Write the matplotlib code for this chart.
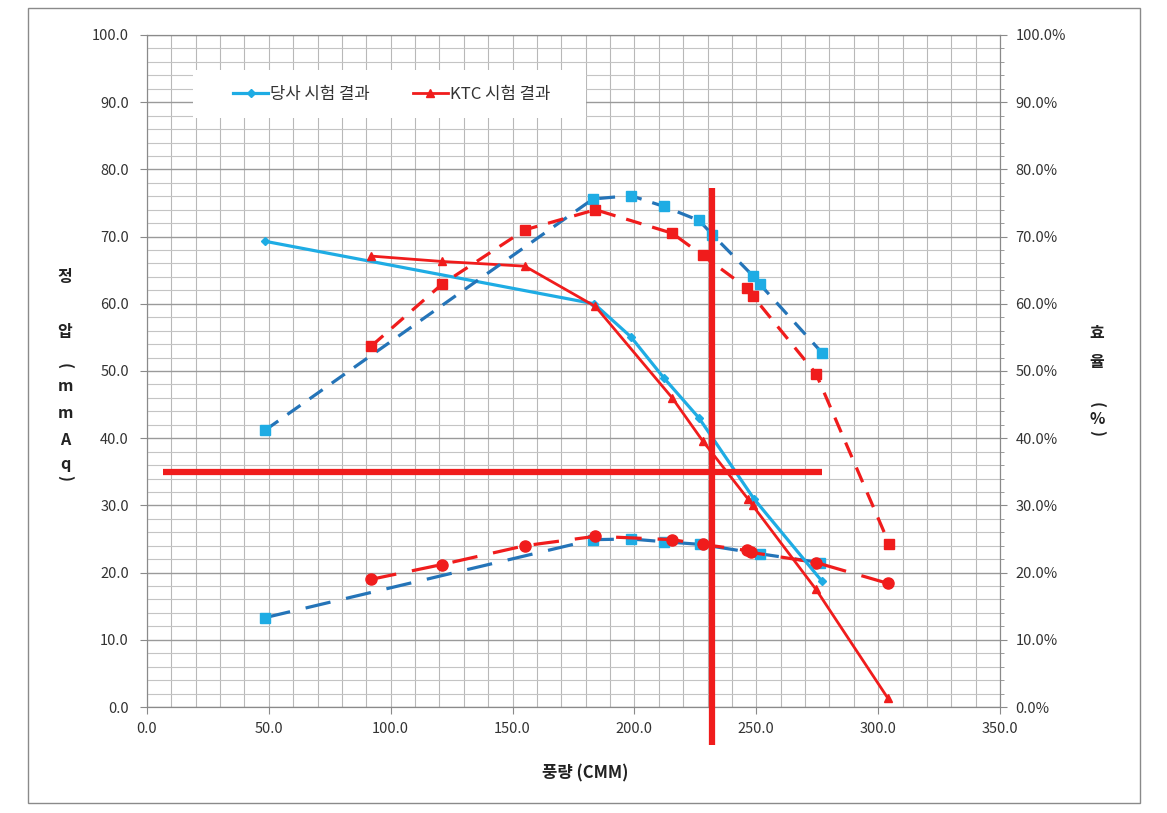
import matplotlib

matplotlib.use("Agg")

import matplotlib.pyplot as plt
from matplotlib.patches import Rectangle
from matplotlib.ticker import FuncFormatter, MultipleLocator

plt.rcParams["font.family"] = ["Noto Sans CJK KR", "DejaVu Sans"]

# 정압 (mmAq) vs 풍량 (CMM)
OUR_Q = [48.5, 183.5, 198.5, 212.0, 226.5, 249.0, 277.0]
OUR_P = [69.3, 60.0, 55.1, 49.0, 43.0, 31.0, 18.7]
KTC_Q = [92.0, 121.0, 155.0, 184.0, 215.5, 228.0, 246.5, 248.5, 274.5, 304.0]
KTC_P = [67.1, 66.3, 65.6, 59.6, 46.0, 39.6, 31.0, 30.0, 17.5, 1.3]

# 효율 (%) — 상단 점선
OUR_EFF_Q = [48.5, 183.0, 198.5, 212.0, 226.5, 232.0, 248.5, 251.5, 277.0]
OUR_EFF = [41.2, 75.6, 76.1, 74.5, 72.4, 70.3, 64.2, 62.9, 52.7]
KTC_EFF_Q = [92.0, 121.0, 155.0, 184.0, 215.5, 228.0, 246.0, 248.5, 274.5, 304.5]
KTC_EFF = [53.7, 62.9, 71.0, 74.0, 70.5, 67.2, 62.4, 61.2, 49.6, 24.3]

# 하단 점선 계열
OUR_LOW_Q = [48.5, 183.0, 198.5, 212.0, 227.0, 251.5, 276.0]
OUR_LOW = [13.3, 24.9, 25.0, 24.6, 24.2, 22.8, 21.5]
KTC_LOW_Q = [92.0, 121.0, 155.0, 184.0, 215.5, 228.0, 246.0, 248.0, 274.5, 304.0]
KTC_LOW = [19.0, 21.2, 24.0, 25.4, 24.9, 24.2, 23.3, 23.0, 21.5, 18.4]

# 표시선 (운전점)
MARK_Q = 232.0
MARK_P = 35.0

CYAN = "#1EACE4"
DARK_BLUE = "#2474B8"
RED = "#F01C1C"

fig = plt.figure(figsize=(11.67, 8.13), dpi=100)
ax = fig.add_axes([147 / 1167, 1 - 707 / 813, 853 / 1167, 672 / 813])
ax2 = ax.twinx()

ax.set_xlim(0, 350)
ax.set_ylim(0, 100)
ax2.set_ylim(0, 100)

ax.xaxis.set_major_locator(MultipleLocator(50))
ax.xaxis.set_minor_locator(MultipleLocator(10))
ax.yaxis.set_major_locator(MultipleLocator(10))
ax.yaxis.set_minor_locator(MultipleLocator(2))
ax2.yaxis.set_major_locator(MultipleLocator(10))
ax2.yaxis.set_minor_locator(MultipleLocator(2))

ax.xaxis.set_major_formatter(FuncFormatter(lambda v, _: f"{v:.1f}"))
ax.yaxis.set_major_formatter(FuncFormatter(lambda v, _: f"{v:.1f}"))
ax2.yaxis.set_major_formatter(FuncFormatter(lambda v, _: f"{v:.1f}%"))

ax.grid(which="major", axis="y", color="#9a9a9a", linewidth=1.0)
ax.grid(which="minor", axis="y", color="#c4c4c4", linewidth=0.8)
ax.grid(which="both", axis="x", color="#b8b8b8", linewidth=0.8)
ax.set_axisbelow(True)

for a in (ax, ax2):
    for s in a.spines.values():
        s.set_color("#8a8a8a")
    a.tick_params(which="major", length=5, color="#8a8a8a", labelsize=10.5,
                  labelcolor="#333333")
    a.tick_params(which="minor", length=3, color="#8a8a8a")
ax.tick_params(axis="x", pad=6)
ax.tick_params(axis="y", pad=8)
ax.tick_params(axis="x", which="minor", length=0)
ax.tick_params(axis="y", which="minor", length=0)
ax2.tick_params(axis="y", pad=6)

# 정압 곡선
h_our, = ax.plot(OUR_Q, OUR_P, color=CYAN, lw=2.3, marker="D", ms=4,
                 label="당사 시험 결과", zorder=4)
h_ktc, = ax.plot(KTC_Q, KTC_P, color=RED, lw=2.0, marker="^", ms=6,
                 label="KTC 시험 결과", zorder=4)

# 효율 곡선
dash = (0, (5, 3.5))
ax2.plot(OUR_EFF_Q, OUR_EFF, color=DARK_BLUE, lw=2.3, ls=dash, marker="s", ms=7,
         mfc=CYAN, mec=CYAN, zorder=3)
ax2.plot(KTC_EFF_Q, KTC_EFF, color=RED, lw=2.3, ls=dash, marker="s", ms=7,
         mfc=RED, mec=RED, zorder=3)

# 하단 곡선
ax.plot(OUR_LOW_Q, OUR_LOW, color=DARK_BLUE, lw=2.3, ls=(0, (8, 5)), marker="s",
        ms=7, mfc=CYAN, mec=CYAN, zorder=3)
ax.plot(KTC_LOW_Q, KTC_LOW, color=RED, lw=2.3, ls=(0, (8, 5)), marker="o", ms=8,
        mfc=RED, mec=RED, zorder=3)

# 운전점 표시선
ax2.plot([6.5, 277], [MARK_P, MARK_P], color=RED, lw=4.5, solid_capstyle="butt",
         zorder=6, clip_on=False)
ax2.plot([MARK_Q, MARK_Q], [-5.6, 77.3], color=RED, lw=4.5, solid_capstyle="butt",
         zorder=6, clip_on=False)

# 범례 (흰 바탕 상자)
ax2.add_patch(Rectangle((0.054, 0.877), 0.461, 0.071, transform=ax2.transAxes,
                        facecolor="white", edgecolor="none", zorder=8))
leg = ax2.legend(handles=[h_our, h_ktc], ncol=2, loc="center left",
                 bbox_to_anchor=(0.101, 0.912), frameon=False, fontsize=12,
                 handlelength=2.1, columnspacing=2.6, borderpad=0,
                 handletextpad=0.1, borderaxespad=0)
leg.set_zorder(10)
for t in leg.get_texts():
    t.set_color("#333333")

fig.text(585 / 1167, 1 - 773 / 813, "풍량 (CMM)", ha="center", va="center",
         fontsize=12, fontweight="bold", color="#222222")

left_chars = [("정", 277, 0), ("압", 332, 0), ("(", 366, -90), ("m", 386, 0),
              ("m", 413, 0), ("A", 440, 0), ("q", 464, 0), (")", 478, -90)]
for ch, py, rot in left_chars:
    fig.text(65 / 1167, 1 - py / 813, ch, ha="center", va="center", rotation=rot,
             fontsize=11.5, fontweight="bold", color="#222222")

right_chars = [("효", 333, 0), ("율", 362, 0), ("(", 405, -90), ("%", 419, 0),
               (")", 433, -90)]
for ch, py, rot in right_chars:
    fig.text(1097 / 1167, 1 - py / 813, ch, ha="center", va="center", rotation=rot,
             fontsize=11.5, fontweight="bold", color="#222222")

fig.patches.append(Rectangle((28 / 1167, 1 - 803 / 813), 1112 / 1167, 795 / 813,
                             transform=fig.transFigure, fill=False,
                             edgecolor="#8a8a8a", linewidth=1.0))

fig.savefig("out.png", dpi=100)
